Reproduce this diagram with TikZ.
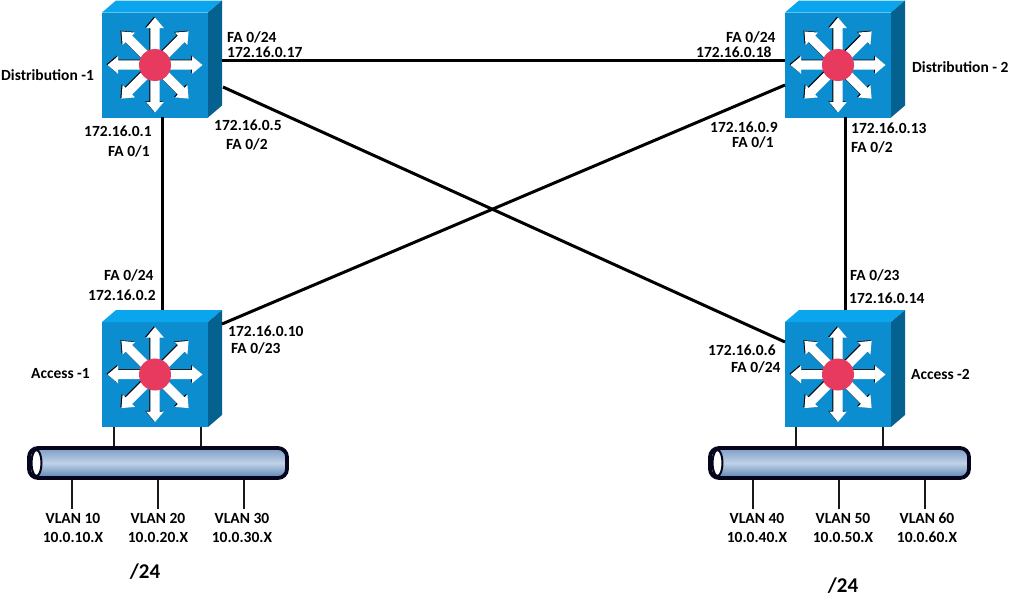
\documentclass[tikz,border=0pt]{standalone}
\usepackage{fontspec}
\setmainfont{Carlito}
\usetikzlibrary{calc}
\definecolor{swfront}{HTML}{0C8DCF}
\definecolor{swtop}{HTML}{0AA5EC}
\definecolor{swside}{HTML}{05618F}
\definecolor{swhub}{HTML}{E83A5E}
\definecolor{busedge}{HTML}{05051E}
\definecolor{bustop}{HTML}{7C9CC4}
\definecolor{busmid}{HTML}{BFD2E8}
\definecolor{busbot}{HTML}{5B82B0}
\tikzset{
  x=1pt,y=-1pt,
  swface/.style={fill=swfront,draw=none,minimum width=106pt,minimum height=105pt,inner sep=0pt,outer sep=0pt},
  link/.style={draw=black,line width=3pt},
  stub/.style={draw=black!90,line width=1.9pt},
  lbl/.style={font=\fontsize{15.5}{17}\selectfont\bfseries,inner sep=0pt,anchor=west},
  vlan/.style={font=\fontsize{15.5}{19}\selectfont\bfseries,inner sep=0pt,align=center},
  mask/.style={font=\fontsize{21}{23}\selectfont\bfseries,inner sep=0pt}
}
% one radial arrow of the switch symbol, pointing east from the hub
\newcommand{\sprayarrow}[3]{%
  \fill[#3,shift={(#1)},rotate=#2]
    (14,-4.6) -- (37,-4.6) -- (37,-8.8) -- (47.5,0) -- (37,8.8) -- (37,4.6) -- (14,4.6) -- cycle;}
% multilayer switch: name, centre of the front face
\newcommand{\mlswitch}[3]{%
  \node[swface] (#1) at (#2,#3) {};
  \fill[swtop] (#1.north west) -- ++(14,-12) -- ++(106,0) -- (#1.north east) -- cycle;
  \fill[swside] (#1.north east) -- ++(14,-12) -- ++(0,105) -- (#1.south east) -- cycle;
  \foreach \a in {0,45,...,315}{\sprayarrow{$(#1.center)+(-1,-.7)$}{\a}{black}}
  \foreach \a in {0,45,...,315}{\sprayarrow{$(#1.center)$}{\a}{white}}
  \node[circle,fill=swhub,minimum size=32pt,inner sep=0pt] (#1hub) at (#1.center) {};}
% shared segment drawn as a horizontal pipe: name, left, right, top, bottom
\newcommand{\lanpipe}[5]{%
  \node[inner sep=0pt,outer sep=0pt,minimum width=#3pt-#2pt,minimum height=#5pt-#4pt,
        rounded corners=9pt,top color=bustop,bottom color=busbot,middle color=busmid,
        draw=busedge,line width=3.8pt] (#1) at ({(#2+#3)/2},{(#4+#5)/2}) {};
  \draw[draw=busedge,line width=2pt,fill=white] ({#2+7.5},{(#4+#5)/2}) ellipse [x radius=5pt,y radius=13pt];}
\begin{document}
\begin{tikzpicture}
\useasboundingbox (0,0) rectangle (1012,597);

\mlswitch{dista}{155}{65}
\mlswitch{distb}{838}{65}
\mlswitch{acca}{155}{374.5}
\mlswitch{accb}{838}{374.5}

\lanpipe{lana}{29}{287}{448}{478}
\lanpipe{lanb}{710}{969}{448}{478}

% attachment points on the switch bodies
\coordinate (da-e) at (222,60);
\coordinate (db-w) at (785,60);
\coordinate (da-se) at (223,87);
\coordinate (bb-nw) at (785,342);
\coordinate (db-sw) at (785,85);
\coordinate (aa-ne) at (222,324);
\coordinate (da-s) at (162,117);
\coordinate (aa-n) at (162,310);
\coordinate (db-s) at (845,117);
\coordinate (bb-n) at (845,310);

% uplinks between the switches
\draw[link] (da-e) -- (db-w);
\draw[link] (da-se) -- (bb-nw);
\draw[link] (db-sw) -- (aa-ne);
\draw[link] (da-s) -- (aa-n);
\draw[link] (db-s) -- (bb-n);

% switch to segment stubs
\coordinate (aa-s1) at (114,427);
\coordinate (aa-s2) at (201,427);
\coordinate (bb-s1) at (796,427);
\coordinate (bb-s2) at (883,427);
\draw[stub] (aa-s1) -- (114,446);
\draw[stub] (aa-s2) -- (201,446);
\draw[stub] (bb-s1) -- (796,446);
\draw[stub] (bb-s2) -- (883,446);

% VLAN drops, with each caption centred at its own offset from the drop
\foreach \x/\v/\n/\o in {72/10/a/1,158/20/b/0,244/30/c/-2,753/40/d/4,839/50/e/4,925/60/f/2}{
  \coordinate (drop\n) at (\x,509);
  \draw[stub] (\x,480) -- (drop\n);
  \node[vlan,anchor=north] (vl\n) at ([xshift=\o pt]drop\n.south) {\rule{0pt}{14pt}VLAN \v\\10.0.\v.X};
}

\node[mask] (maska) at (145,572) {/24};
\node[mask] (maskb) at (843,586) {/24};

% interface labels
\node[lbl] (t01) at (1,75) {Distribution -1};
\node[lbl] (t02) at (227,37) {FA 0/24};
\node[lbl] (t03) at (227,52) {172.16.0.17};
\node[lbl] (t04) at (84,131) {172.16.0.1};
\node[lbl] (t05) at (108,151) {FA 0/1};
\node[lbl] (t06) at (214,125) {172.16.0.5};
\node[lbl] (t07) at (226,144) {FA 0/2};
\node[lbl] (t08) at (726,37) {FA 0/24};
\node[lbl] (t09) at (696,52) {172.16.0.18};
\node[lbl] (t10) at (912,67) {Distribution - 2};
\node[lbl] (t11) at (710,127) {172.16.0.9};
\node[lbl] (t12) at (732,142) {FA 0/1};
\node[lbl] (t13) at (851,128) {172.16.0.13};
\node[lbl] (t14) at (851,147) {FA 0/2};
\node[lbl] (t15) at (104,275) {FA 0/24};
\node[lbl] (t16) at (88,295) {172.16.0.2};
\node[lbl] (t17) at (228,331) {172.16.0.10};
\node[lbl] (t18) at (231,348) {FA 0/23};
\node[lbl] (t19) at (850,275) {FA 0/23};
\node[lbl] (t20) at (849,298) {172.16.0.14};
\node[lbl] (t21) at (708,350) {172.16.0.6};
\node[lbl] (t22) at (731,367) {FA 0/24};
\node[lbl] (t23) at (31,374) {Access -1};
\node[lbl] (t24) at (911,374) {Access -2};
\end{tikzpicture}
\end{document}
